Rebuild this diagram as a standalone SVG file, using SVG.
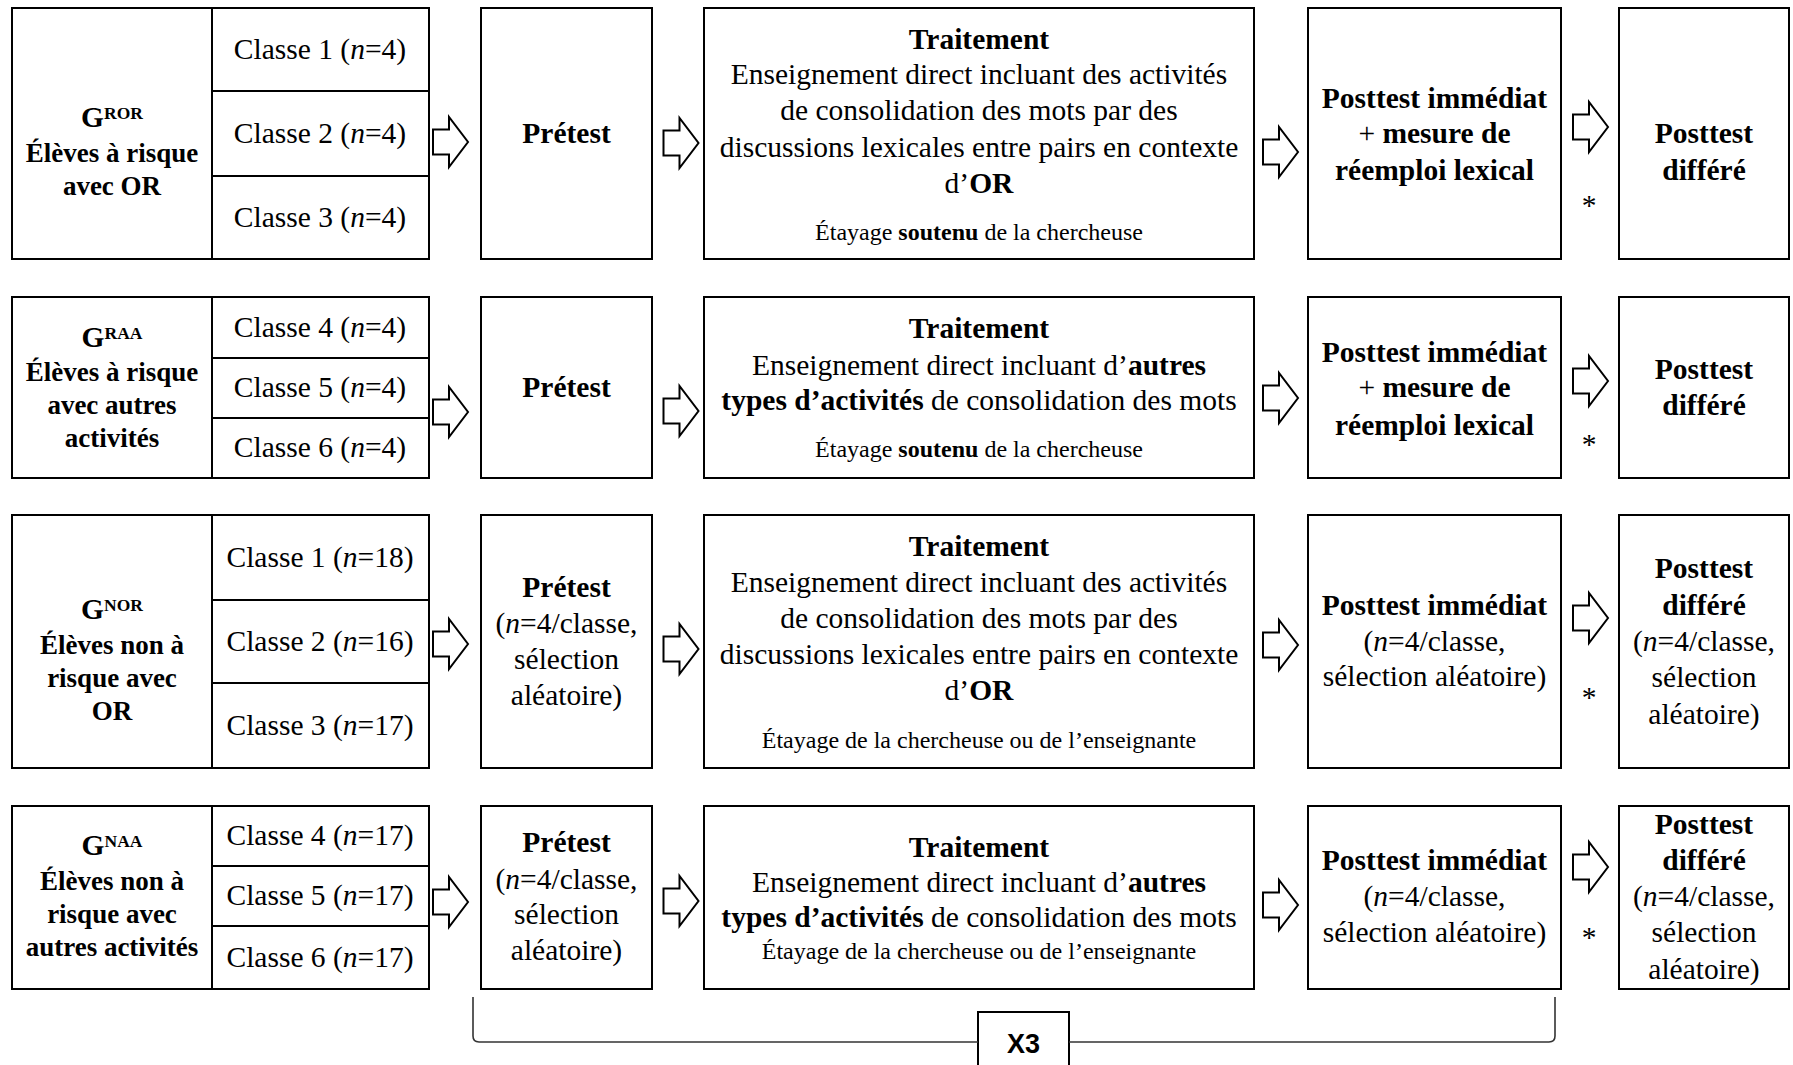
<svg xmlns="http://www.w3.org/2000/svg" xmlns:xlink="http://www.w3.org/1999/xlink" width="1793" height="1065" viewBox="0 0 1793 1065">
<style>
.t{font-family:"Liberation Serif","Times New Roman",serif;font-size:29.5px;fill:#000;text-anchor:middle}
.b{font-weight:bold}
.i{font-style:italic}
.n{font-weight:normal}
.s{font-size:24px}
.g{font-size:27px}
.sup{font-size:17.5px;font-weight:bold}
.box{fill:#fff;stroke:#000;stroke-width:2}
.ln{stroke:#000;stroke-width:2}
.arr{fill:#fff;stroke:#000;stroke-width:2;stroke-linejoin:miter}
.br{fill:none;stroke:#333;stroke-width:1.6}
.x3{font-family:"Liberation Sans",Arial,sans-serif;font-size:27px;font-weight:bold;text-anchor:middle}
</style>
<defs>
<path id="ar" class="arr" d="M-17.5,-12.5 H-1.5 V-25 L17.5,0 L-1.5,25 V12.5 H-17.5 Z"/>
</defs>
<rect width="1793" height="1065" fill="#fff"/>

<!-- Row 1 -->
<g id="g-ror">
<rect class="box" x="12" y="8" width="417" height="251"/>
<line class="ln" x1="212" y1="8" x2="212" y2="259"/>
<line class="ln" x1="212" y1="91" x2="429" y2="91"/>
<line class="ln" x1="212" y1="176" x2="429" y2="176"/>
<text class="t b" x="112" y="127" style="font-size:29.5px">G<tspan class="sup" dy="-8">ROR</tspan></text>
<text class="t b g" x="112" y="162">Élèves à risque</text>
<text class="t b g" x="112" y="195">avec OR</text>
<text class="t" x="320" y="58.5">Classe 1 (<tspan class="i">n</tspan>=4)</text>
<text class="t" x="320" y="142.5">Classe 2 (<tspan class="i">n</tspan>=4)</text>
<text class="t" x="320" y="227">Classe 3 (<tspan class="i">n</tspan>=4)</text>
</g>
<g id="pre-1">
<rect class="box" x="481" y="8" width="171" height="251"/>
<text class="t b" x="566.5" y="143">Prétest</text>
</g>
<g id="trait-1">
<rect class="box" x="704" y="8" width="550" height="251"/>
<text class="t b" x="979" y="48.5">Traitement</text>
<text class="t" x="979" y="83.5">Enseignement direct incluant des activités</text>
<text class="t" x="979" y="120">de consolidation des mots par des</text>
<text class="t" x="979" y="156.5">discussions lexicales entre pairs en contexte</text>
<text class="t" x="979" y="192.5">d’<tspan class="b">OR</tspan></text>
<text class="t s" x="979" y="240">Étayage <tspan class="b">soutenu</tspan> de la chercheuse</text>
</g>
<g id="pi-1">
<rect class="box" x="1308" y="8" width="253" height="251"/>
<text class="t b" x="1434.5" y="108">Posttest immédiat</text>
<text class="t b" x="1434.5" y="143"><tspan class="n">+ </tspan>mesure de</text>
<text class="t b" x="1434.5" y="180">réemploi lexical</text>
</g>
<g id="pd-1">
<rect class="box" x="1619" y="8" width="170" height="251"/>
<text class="t b" x="1704" y="143">Posttest</text>
<text class="t b" x="1704" y="180">différé</text>
</g>

<!-- Row 2 -->
<g id="g-raa">
<rect class="box" x="12" y="297" width="417" height="181"/>
<line class="ln" x1="212" y1="297" x2="212" y2="478"/>
<line class="ln" x1="212" y1="358" x2="429" y2="358"/>
<line class="ln" x1="212" y1="418" x2="429" y2="418"/>
<text class="t b" x="112" y="347">G<tspan class="sup" dy="-8">RAA</tspan></text>
<text class="t b g" x="112" y="381">Élèves à risque</text>
<text class="t b g" x="112" y="414">avec autres</text>
<text class="t b g" x="112" y="447">activités</text>
<text class="t" x="320" y="336.5">Classe 4 (<tspan class="i">n</tspan>=4)</text>
<text class="t" x="320" y="397">Classe 5 (<tspan class="i">n</tspan>=4)</text>
<text class="t" x="320" y="457">Classe 6 (<tspan class="i">n</tspan>=4)</text>
</g>
<g id="pre-2">
<rect class="box" x="481" y="297" width="171" height="181"/>
<text class="t b" x="566.5" y="397">Prétest</text>
</g>
<g id="trait-2">
<rect class="box" x="704" y="297" width="550" height="181"/>
<text class="t b" x="979" y="338">Traitement</text>
<text class="t" x="979" y="375">Enseignement direct incluant d’<tspan class="b">autres</tspan></text>
<text class="t" x="979" y="410"><tspan class="b">types d’activités</tspan> de consolidation des mots</text>
<text class="t s" x="979" y="457">Étayage <tspan class="b">soutenu</tspan> de la chercheuse</text>
</g>
<g id="pi-2">
<rect class="box" x="1308" y="297" width="253" height="181"/>
<text class="t b" x="1434.5" y="362">Posttest immédiat</text>
<text class="t b" x="1434.5" y="397"><tspan class="n">+ </tspan>mesure de</text>
<text class="t b" x="1434.5" y="435">réemploi lexical</text>
</g>
<g id="pd-2">
<rect class="box" x="1619" y="297" width="170" height="181"/>
<text class="t b" x="1704" y="379">Posttest</text>
<text class="t b" x="1704" y="414.5">différé</text>
</g>

<!-- Row 3 -->
<g id="g-nor">
<rect class="box" x="12" y="515" width="417" height="253"/>
<line class="ln" x1="212" y1="515" x2="212" y2="768"/>
<line class="ln" x1="212" y1="600" x2="429" y2="600"/>
<line class="ln" x1="212" y1="683" x2="429" y2="683"/>
<text class="t b" x="112" y="619">G<tspan class="sup" dy="-8">NOR</tspan></text>
<text class="t b g" x="112" y="654">Élèves non à</text>
<text class="t b g" x="112" y="687">risque avec</text>
<text class="t b g" x="112" y="720">OR</text>
<text class="t" x="320" y="566.5">Classe 1 (<tspan class="i">n</tspan>=18)</text>
<text class="t" x="320" y="650.5">Classe 2 (<tspan class="i">n</tspan>=16)</text>
<text class="t" x="320" y="734.5">Classe 3 (<tspan class="i">n</tspan>=17)</text>
</g>
<g id="pre-3">
<rect class="box" x="481" y="515" width="171" height="253"/>
<text class="t b" x="566.5" y="597">Prétest</text>
<text class="t" x="566.5" y="633">(<tspan class="i">n</tspan>=4/classe,</text>
<text class="t" x="566.5" y="669">sélection</text>
<text class="t" x="566.5" y="705">aléatoire)</text>
</g>
<g id="trait-3">
<rect class="box" x="704" y="515" width="550" height="253"/>
<text class="t b" x="979" y="556">Traitement</text>
<text class="t" x="979" y="592">Enseignement direct incluant des activités</text>
<text class="t" x="979" y="628">de consolidation des mots par des</text>
<text class="t" x="979" y="664">discussions lexicales entre pairs en contexte</text>
<text class="t" x="979" y="700">d’<tspan class="b">OR</tspan></text>
<text class="t s" x="979" y="748">Étayage de la chercheuse ou de l’enseignante</text>
</g>
<g id="pi-3">
<rect class="box" x="1308" y="515" width="253" height="253"/>
<text class="t b" x="1434.5" y="614.5">Posttest immédiat</text>
<text class="t" x="1434.5" y="650.5">(<tspan class="i">n</tspan>=4/classe,</text>
<text class="t" x="1434.5" y="686">sélection aléatoire)</text>
</g>
<g id="pd-3">
<rect class="box" x="1619" y="515" width="170" height="253"/>
<text class="t b" x="1704" y="578">Posttest</text>
<text class="t b" x="1704" y="614.5">différé</text>
<text class="t" x="1704" y="650.5">(<tspan class="i">n</tspan>=4/classe,</text>
<text class="t" x="1704" y="687">sélection</text>
<text class="t" x="1704" y="724">aléatoire)</text>
</g>

<!-- Row 4 -->
<g id="g-naa">
<rect class="box" x="12" y="806" width="417" height="183"/>
<line class="ln" x1="212" y1="806" x2="212" y2="989"/>
<line class="ln" x1="212" y1="866" x2="429" y2="866"/>
<line class="ln" x1="212" y1="926" x2="429" y2="926"/>
<text class="t b" x="112" y="855">G<tspan class="sup" dy="-8">NAA</tspan></text>
<text class="t b g" x="112" y="890">Élèves non à</text>
<text class="t b g" x="112" y="923">risque avec</text>
<text class="t b g" x="112" y="956">autres activités</text>
<text class="t" x="320" y="845">Classe 4 (<tspan class="i">n</tspan>=17)</text>
<text class="t" x="320" y="905">Classe 5 (<tspan class="i">n</tspan>=17)</text>
<text class="t" x="320" y="966.5">Classe 6 (<tspan class="i">n</tspan>=17)</text>
</g>
<g id="pre-4">
<rect class="box" x="481" y="806" width="171" height="183"/>
<text class="t b" x="566.5" y="852">Prétest</text>
<text class="t" x="566.5" y="888.5">(<tspan class="i">n</tspan>=4/classe,</text>
<text class="t" x="566.5" y="924">sélection</text>
<text class="t" x="566.5" y="960">aléatoire)</text>
</g>
<g id="trait-4">
<rect class="box" x="704" y="806" width="550" height="183"/>
<text class="t b" x="979" y="857">Traitement</text>
<text class="t" x="979" y="892">Enseignement direct incluant d’<tspan class="b">autres</tspan></text>
<text class="t" x="979" y="927"><tspan class="b">types d’activités</tspan> de consolidation des mots</text>
<text class="t s" x="979" y="959">Étayage de la chercheuse ou de l’enseignante</text>
</g>
<g id="pi-4">
<rect class="box" x="1308" y="806" width="253" height="183"/>
<text class="t b" x="1434.5" y="869.5">Posttest immédiat</text>
<text class="t" x="1434.5" y="905.5">(<tspan class="i">n</tspan>=4/classe,</text>
<text class="t" x="1434.5" y="942">sélection aléatoire)</text>
</g>
<g id="pd-4">
<rect class="box" x="1619" y="806" width="170" height="183"/>
<text class="t b" x="1704" y="834">Posttest</text>
<text class="t b" x="1704" y="869.5">différé</text>
<text class="t" x="1704" y="905.5">(<tspan class="i">n</tspan>=4/classe,</text>
<text class="t" x="1704" y="942">sélection</text>
<text class="t" x="1704" y="979">aléatoire)</text>
</g>

<!-- X3 repeat bracket -->
<g id="repeat-x3">
<rect class="box" x="978" y="1012" width="91" height="70"/>
<text class="x3" x="1023.5" y="1053">X3</text>
</g>

<!-- Connectors -->
<g id="connectors">
<use xlink:href="#ar" href="#ar" x="450.5" y="142"/>
<use xlink:href="#ar" href="#ar" x="681" y="143"/>
<use xlink:href="#ar" href="#ar" x="1280.5" y="152"/>
<use xlink:href="#ar" href="#ar" x="1590.5" y="127"/>

<use xlink:href="#ar" href="#ar" x="450.5" y="412"/>
<use xlink:href="#ar" href="#ar" x="681" y="411"/>
<use xlink:href="#ar" href="#ar" x="1280.5" y="398"/>
<use xlink:href="#ar" href="#ar" x="1590.5" y="381"/>

<use xlink:href="#ar" href="#ar" x="450.5" y="644"/>
<use xlink:href="#ar" href="#ar" x="681" y="649"/>
<use xlink:href="#ar" href="#ar" x="1280.5" y="645"/>
<use xlink:href="#ar" href="#ar" x="1590.5" y="618"/>

<use xlink:href="#ar" href="#ar" x="450.5" y="902"/>
<use xlink:href="#ar" href="#ar" x="681" y="901"/>
<use xlink:href="#ar" href="#ar" x="1280.5" y="905"/>
<use xlink:href="#ar" href="#ar" x="1590.5" y="867"/>

<text class="t" x="1589" y="215">*</text>
<text class="t" x="1589" y="454">*</text>
<text class="t" x="1589" y="707">*</text>
<text class="t" x="1589" y="947">*</text>

<path class="br" d="M473,997 V1036 Q473,1042 479,1042 H978"/>
<path class="br" d="M1069,1042 H1549 Q1555,1042 1555,1036 V997"/>
</g>
</svg>
